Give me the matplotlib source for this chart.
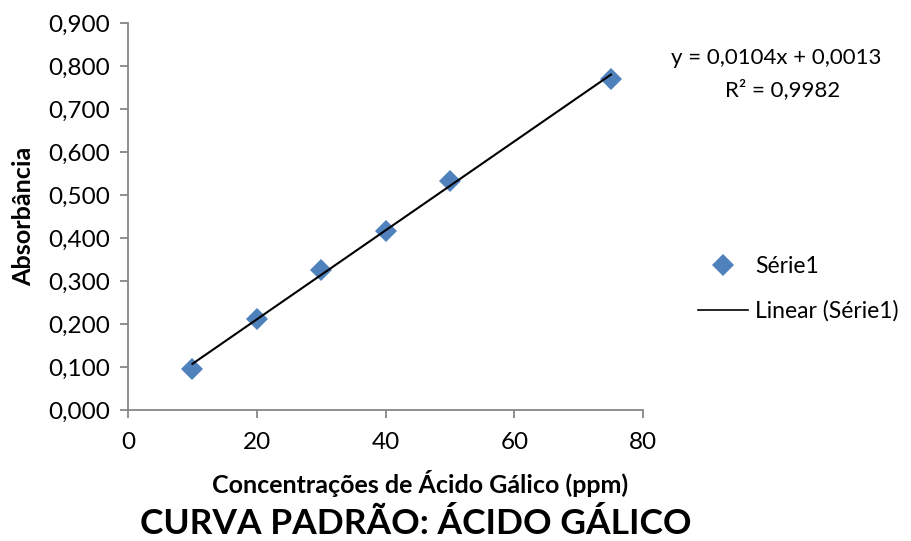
import numpy as np
import matplotlib
matplotlib.use("Agg")
import matplotlib.pyplot as plt
from matplotlib.lines import Line2D

plt.rcParams['font.family'] = ['Lato', 'DejaVu Sans']

# dados da curva padrão
concentracoes = [10, 20, 30, 40, 50, 75]
absorbancias = [0.095, 0.212, 0.326, 0.416, 0.533, 0.770]
y_ticks = [0.0, 0.1, 0.2, 0.3, 0.4, 0.5, 0.6, 0.7, 0.8, 0.9]
x_ticks = [0, 20, 40, 60, 80]

# regressão linear
coef = np.polyfit(concentracoes, absorbancias, 1)
x_fit = np.array([min(concentracoes), max(concentracoes)])
y_fit = np.polyval(coef, x_fit)

fig = plt.figure(figsize=(9.11, 5.41), dpi=100)
ax = fig.add_axes([0.1405, 0.242, 0.5655, 0.7155])

ax.plot(x_fit, y_fit, color='black', lw=1.5, zorder=3)
ax.plot(concentracoes, absorbancias, 'D', color='#4F81BD', markersize=11,
        markeredgewidth=0, zorder=2)

ax.set_xlim(0, 80)
ax.set_ylim(0, 0.9)
ax.set_xticks(x_ticks)
ax.set_yticks(y_ticks)
ax.set_yticklabels([f"{v:.3f}".replace('.', ',') for v in y_ticks])
ax.tick_params(labelsize=17.5, color='#868686', length=6, width=1.3, pad=7)
ax.tick_params(axis='x', pad=10)

for lado in ['top', 'right']:
    ax.spines[lado].set_visible(False)
for lado in ['left', 'bottom']:
    ax.spines[lado].set_color('#868686')
    ax.spines[lado].set_linewidth(1.3)

ax.set_xlabel("Concentrações de Ácido Gálico (ppm)", fontsize=18,
              fontweight='bold')
ax.xaxis.set_label_coords(0.567, -0.155)
ax.set_ylabel("Absorbância", fontsize=18.2, fontweight='bold', labelpad=9)

fig.text(0.456, 0.002, "CURVA PADRÃO: ÁCIDO GÁLICO", fontsize=25.5,
         fontweight='bold', ha='center', va='bottom')

fig.text(0.852, 0.893, "y = 0,0104x + 0,0013", fontsize=16, ha='center', va='center')
fig.text(0.859, 0.834, "R² = 0,9982", fontsize=16, ha='center', va='center')

handles = [
    Line2D([], [], marker='D', color='#4F81BD', linestyle='None',
           markersize=11, markeredgewidth=0),
    Line2D([], [], color='black', lw=1.2),
]
fig.legend(handles, ["Série1", "Linear (Série1)"], loc='center left',
           bbox_to_anchor=(0.766, 0.466), frameon=False, fontsize=16.5,
           borderpad=0, borderaxespad=0, handlelength=2.2,
           handletextpad=0.3, labelspacing=1.0)

fig.savefig("out.png", dpi=100)
